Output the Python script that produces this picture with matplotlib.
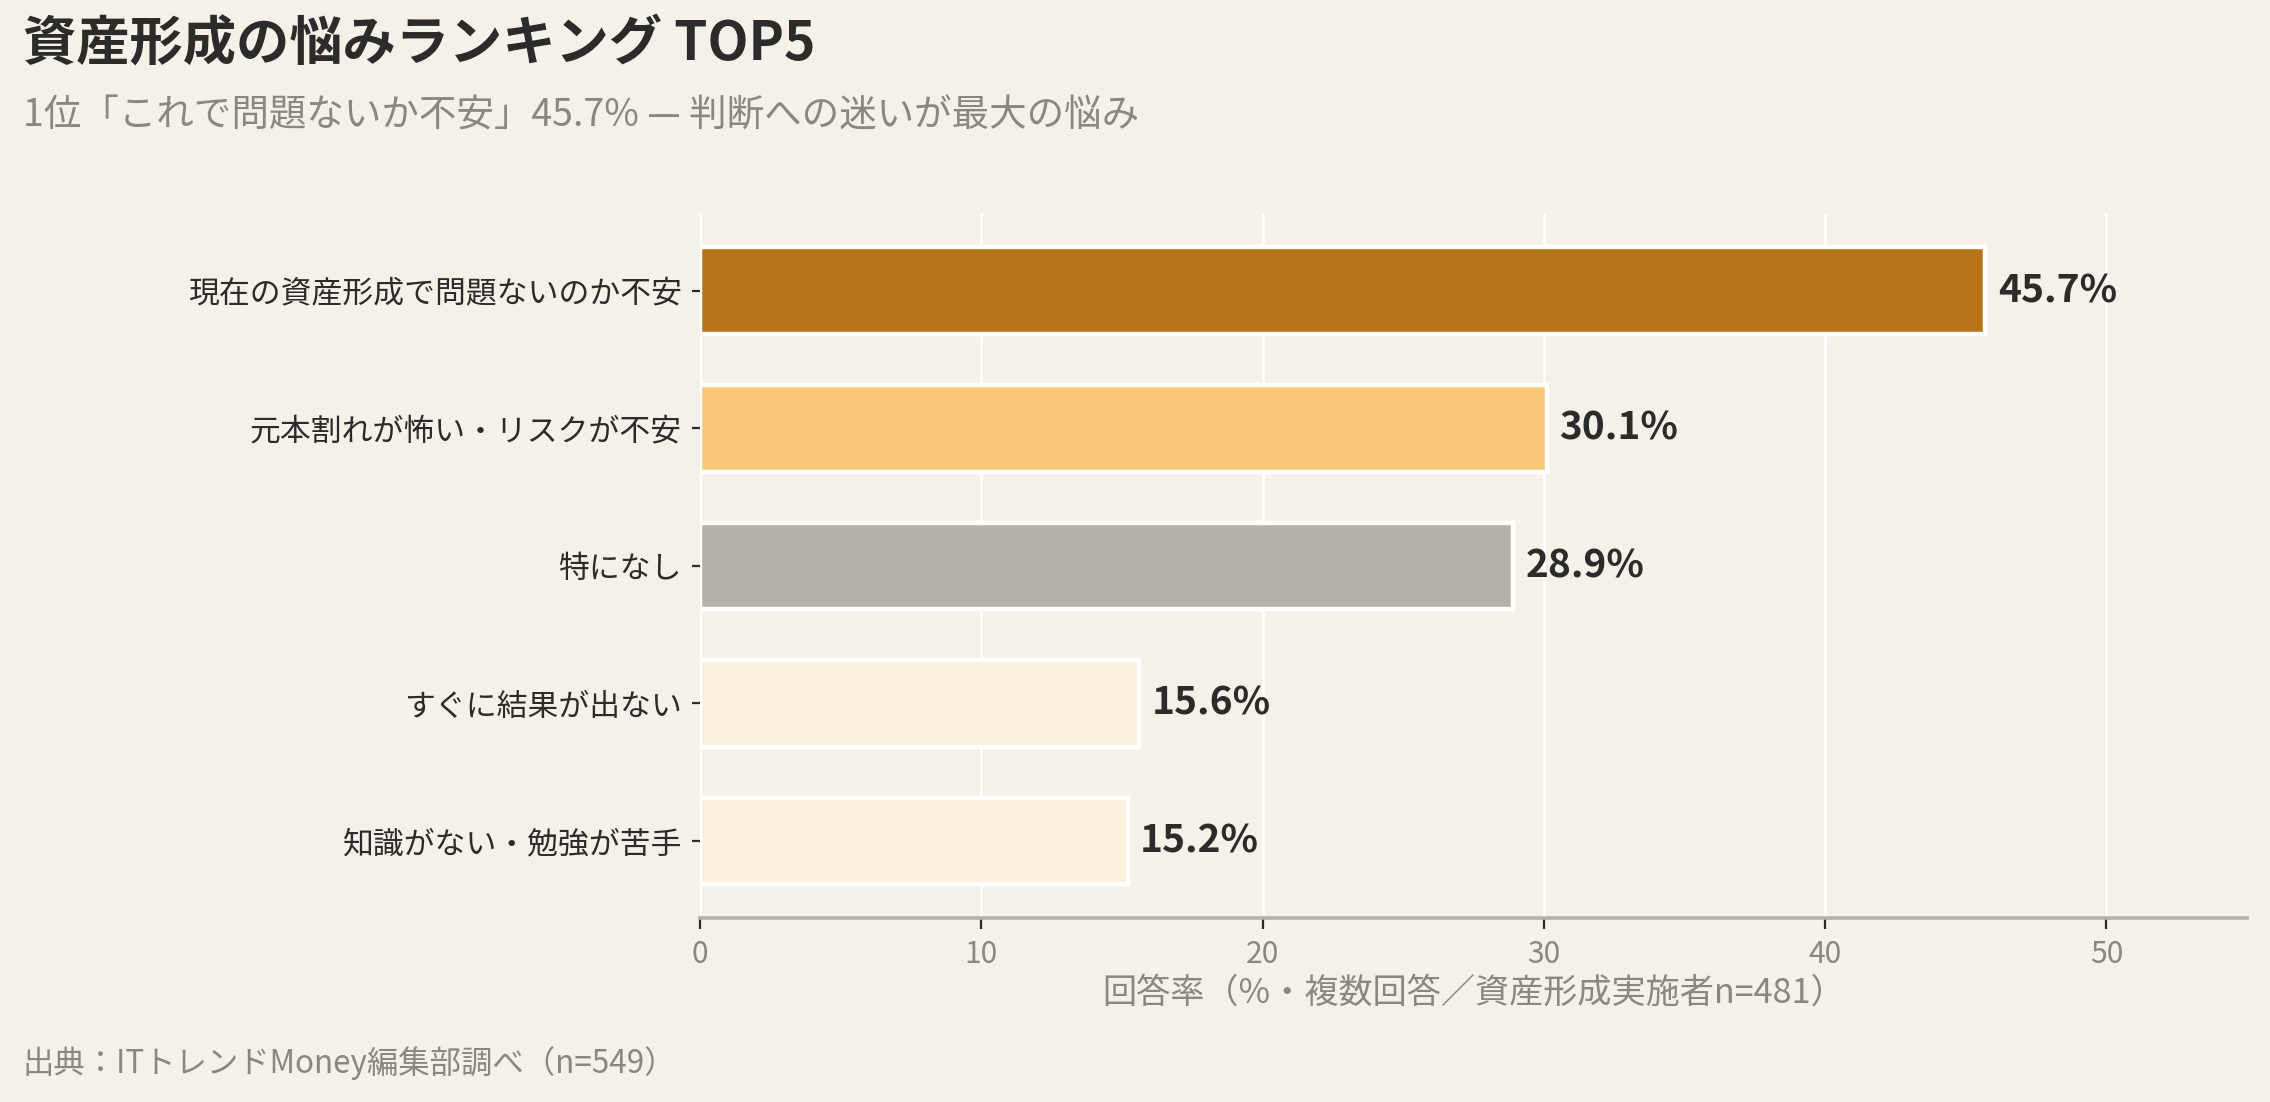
import matplotlib
matplotlib.use('Agg')
from matplotlib import pyplot as plt

plt.rcParams['font.family'] = ['Noto Sans CJK JP', 'DejaVu Sans']

labels = ['現在の資産形成で問題ないのか不安', '元本割れが怖い・リスクが不安', '特になし',
          'すぐに結果が出ない', '知識がない・勉強が苦手']
values = [45.7, 30.1, 28.9, 15.6, 15.2]
colors = ['#B87418', '#F9C77A', '#B5B1A9', '#FAEEDC', '#FAEEDC']
xticks = [0, 10, 20, 30, 40, 50]

bg = '#F5F0E8'
fig = plt.figure(figsize=(11.35, 5.51), dpi=200, facecolor=bg)
ax = fig.add_axes([0.3084, 0.167, 0.6815, 0.639], facecolor=bg)

ypos = list(range(len(labels)))
ax.barh(ypos, values, height=0.63, color=colors, edgecolor='white', linewidth=1.6, zorder=3)

for y, v in zip(ypos, values):
    ax.annotate(f'{v}%', (v, y), xytext=(4.5, 0), textcoords='offset points',
                va='center', ha='left', fontsize=14, fontweight='bold', color='#2b2b2b')

ax.set_yticks(ypos)
ax.set_yticklabels(labels, fontsize=11.1, color='#2b2b2b')
ax.set_ylim(4.56, -0.56)
ax.set_xlim(0, 55)
ax.set_xticks(xticks)
ax.tick_params(axis='x', labelsize=10.8, labelcolor='#8A8780', length=4, width=0.8, color='#2b2b2b')
ax.tick_params(axis='y', length=3, width=0.8, color='#2b2b2b')
ax.grid(axis='x', color='white', linewidth=1.0, zorder=0)
ax.set_axisbelow(True)
for s in ['top', 'right', 'left']:
    ax.spines[s].set_visible(False)
ax.spines['bottom'].set_color('#B5B1A9')
ax.spines['bottom'].set_linewidth(1.3)

ax.set_xlabel('回答率（%・複数回答／資産形成実施者n=481）', fontsize=12.3, color='#8A8780', labelpad=2)

fig.text(0.010, 0.960, '資産形成の悩みランキング TOP5', fontsize=19.2, fontweight='bold',
         color='#2b2b2b', va='center', ha='left')
fig.text(0.010, 0.895, '1位「これで問題ないか不安」45.7% — 判断への迷いが最大の悩み', fontsize=13.5,
         color='#8A8780', va='center', ha='left')
fig.text(0.010, 0.035, '出典：ITトレンドMoney編集部調べ（n=549）', fontsize=11.3,
         color='#8A8780', va='center', ha='left')

fig.savefig('out.png', dpi=200, facecolor=bg)
